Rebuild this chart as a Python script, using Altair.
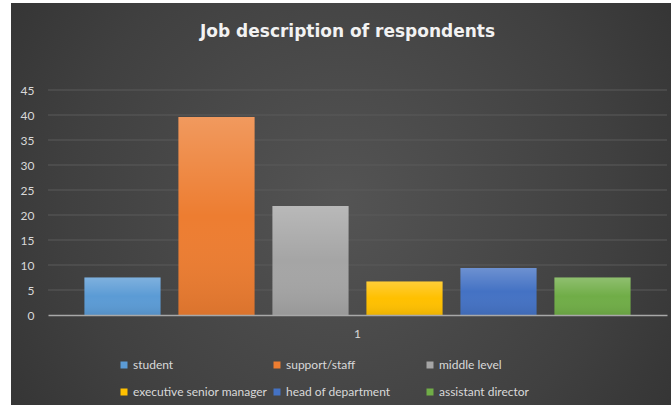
import altair as alt
import pandas as pd

# ---- data ----
categories = ["student", "support/staff", "middle level",
              "executive senior manager", "head of department", "assistant director"]
values = [7.5, 39.6, 21.8, 6.7, 9.4, 7.5]
group_labels = ["1"] * len(categories)
y_ticks = [0, 5, 10, 15, 20, 25, 30, 35, 40, 45]

# ---- styling ----
colors = ["#5B9BD5", "#ED7D31", "#A5A5A5", "#FFC000", "#4472C4", "#70AD47"]
W, H = 619, 225
PAD_L, PAD_T, PAD_R, PAD_B = 48, 90, 4, 90
label_color = "#d9d9d9"
font = "Lato"

df = pd.DataFrame({"job": categories, "value": values, "grp": group_labels})
grid_df = pd.DataFrame({"tick": y_ticks[1:]})
bg_df = pd.DataFrame({"k": [0]})

yscale = alt.Scale(domain=[0, 45], nice=False, zero=True)
xscale = alt.Scale(paddingInner=0, paddingOuter=0)
xoff_scale = alt.Scale(paddingInner=0.19, paddingOuter=0.3875)

y_axis = alt.Axis(values=y_ticks, grid=False, domain=False, ticks=False,
                  labelColor=label_color, labelFont=font, labelFontSize=12,
                  labelPadding=14, zindex=1)

bg = alt.Chart(bg_df).mark_rect(
    fill=alt.Gradient(
        gradient="radial",
        stops=[alt.GradientStop(color="#545454", offset=0),
               alt.GradientStop(color="#404040", offset=0.55),
               alt.GradientStop(color="#2b2b2b", offset=1)],
        x1=0.5, y1=0.5, r1=0, x2=0.5, y2=0.5, r2=0.75,
    )
).encode(
    x=alt.value(11 - PAD_L), x2=alt.value(671 - PAD_L),
    y=alt.value(3 - PAD_T), y2=alt.value(405 - PAD_T),
)

grid = alt.Chart(grid_df).mark_rule(color="#5a5a5a", strokeWidth=1).encode(
    y=alt.Y("tick:Q", scale=yscale, title=None, axis=y_axis)
)

x_enc = alt.X("grp:N", scale=xscale, title=None,
              axis=alt.Axis(labelAngle=0, ticks=False, domainColor="#a8a8a8", domainWidth=1.3,
                            labelColor=label_color, labelFont=font, labelFontSize=12,
                            labelPadding=13, grid=False, zindex=1))
xo_enc = alt.XOffset("job:N", sort=categories, scale=xoff_scale)
y_enc = alt.Y("value:Q", scale=yscale, title=None, axis=y_axis)

bars = alt.Chart(df).mark_bar().encode(
    x=x_enc, xOffset=xo_enc, y=y_enc,
    color=alt.Color("job:N", sort=categories,
                    scale=alt.Scale(domain=categories, range=colors),
                    legend=alt.Legend(
                        title=None, orient="none", legendX=70, legendY=269,
                        direction="horizontal", columns=3, gridAlign="all",
                        symbolType="square", symbolSize=49, symbolStrokeWidth=0,
                        labelColor=label_color, labelFont=font, labelFontSize=12,
                        labelOffset=3, columnPadding=3, rowPadding=15, padding=0,
                        zindex=1)),
)

shade = alt.Chart(df).mark_bar(
    fill=alt.Gradient(
        gradient="linear",
        stops=[alt.GradientStop(color="rgba(255,255,255,0.22)", offset=0),
               alt.GradientStop(color="rgba(255,255,255,0)", offset=0.5),
               alt.GradientStop(color="rgba(0,0,0,0.08)", offset=1)],
        x1=0, x2=0, y1=0, y2=1,
    )
).encode(x=x_enc, xOffset=xo_enc, y=y_enc)

chart = alt.layer(bg, grid, bars, shade).properties(
    width=W, height=H,
    title=alt.TitleParams("Job description of respondents", font="DejaVu Sans",
                          fontSize=17, fontWeight="bold", color="#f2f2f2",
                          anchor="middle", frame="group", dx=-10, offset=-38, zindex=1),
    autosize=alt.AutoSizeParams(type="none"),
    padding={"left": PAD_L, "top": PAD_T, "right": PAD_R, "bottom": PAD_B},
).configure(background="#ffffff").configure_view(stroke=None)

chart.save("out.html", embed_options={"renderer": "svg", "actions": False})
